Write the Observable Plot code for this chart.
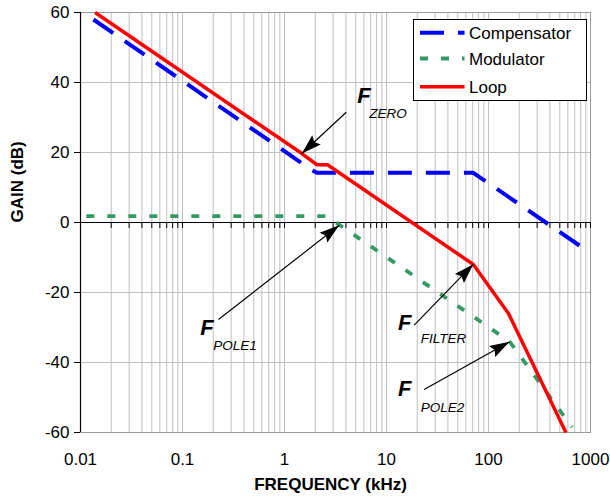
<!DOCTYPE html>
<html><head><meta charset="utf-8">
<script src="https://cdn.jsdelivr.net/npm/d3@7"></script>
<script src="https://cdn.jsdelivr.net/npm/@observablehq/plot@0.6"></script>
<style>
body{margin:0;background:#fff;font-family:"Liberation Sans",Arial,sans-serif;}
#chart{width:610px;height:503px;}
</style></head><body><div id="chart"></div>
<script>
// ---- data (frequency in kHz, gain in dB) ----
const compFreq = [0.0134, 1.85, 2.08, 71, 790];
const compGain = [58, 15, 14.2, 14.2, -6.7];
const modFreq = [0.0114, 2.6, 161, 660];
const modGain = [1.8, 1.8, -34, -58.5];
const loopFreq = [0.0139, 1.48, 2.08, 2.64, 71, 157, 574];
const loopGain = [60, 19.7, 16.5, 16.5, -12, -26, -60];

const xTickLabels = [0.01, 0.1, 1, 10, 100, 1000];
const yTickValues = [-60, -40, -20, 0, 20, 40, 60];
const decadeMultipliers = [1, 2, 3, 4, 5, 6, 7, 8, 9];

const seriesNames = ["Compensator", "Modulator", "Loop"];
const seriesColors = ["#0000ff", "#339966", "#ff0000"];
const seriesDash = ["24,14", "8,13", null];
const seriesWidth = [4, 3.8, 3.5];

// annotations
const annMain = ["F", "F", "F", "F"];
const annSub = ["ZERO", "POLE1", "FILTER", "POLE2"];
const annFx = [5.16, 0.149, 13.0, 13.0];
const annFy = [36.2, -30.1, -28.6, -47.7];
const annSx = [6.76, 0.2, 21.7, 21.7];
const annSy = [31.2, -35.3, -33.2, -52.8];
const arrowX1 = [4.03, 0.2255, 18.7, 23.4];
const arrowY1 = [31.5, -27.7, -29.3, -47.7];
const arrowX2 = [1.48, 3.44, 71, 161];
const arrowY2 = [19.7, -0.8, -11.9, -34.1];

const TICK_DB = 1.7; // tick length on the 0 dB axis, in dB

const gridFreqs = [];
xTickLabels.slice(0, -1).forEach(d => decadeMultipliers.forEach(m => gridFreqs.push(+(d * m).toPrecision(3))));
gridFreqs.push(1000);

const idx = a => a.map((_, i) => i);
const series = [[compFreq, compGain], [modFreq, modGain], [loopFreq, loopGain]];
const font = "Liberation Sans, Arial, Helvetica, sans-serif";

const svg = Plot.plot({
  width: 610, height: 503,
  marginLeft: 80, marginRight: 20, marginTop: 12, marginBottom: 71,
  x: {type: "log", domain: [0.01, 1000], axis: null},
  y: {domain: [-60, 60], axis: null},
  style: {fontFamily: font, fontSize: "17px", background: "white", color: "black", overflow: "visible"},
  marks: [
    Plot.ruleX(gridFreqs, {stroke: "#c0c0c0", strokeWidth: 1}),
    Plot.ruleY(yTickValues, {stroke: "#c0c0c0", strokeWidth: 1}),
    Plot.frame({stroke: "#999"}),
    Plot.ruleY([0], {stroke: "black", strokeWidth: 1.2}),
    Plot.ruleX(gridFreqs, {x: d => d, y1: 0, y2: -TICK_DB, stroke: "black", strokeWidth: 1}),
    Plot.ruleX([0.01], {stroke: "black", strokeWidth: 1.2}),
    Plot.axisY({ticks: yTickValues, tickSize: 6, tickPadding: 5, label: null, fontSize: 17, tickFormat: d => String(d)}),
    Plot.axisX({ticks: xTickLabels, tickSize: 0, tickPadding: 20, label: null, fontSize: 17, tickFormat: d => String(d)}),
    Plot.text(["FREQUENCY (kHz)"], {frameAnchor: "bottom", dy: 57, dx: -5, fontWeight: "bold", fontSize: 17}),
    Plot.text(["GAIN (dB)"], {frameAnchor: "left", dx: -63, rotate: -90, fontWeight: "bold", fontSize: 17}),
    ...series.map(([fx, gy], s) => Plot.line(idx(fx), {
      x: i => fx[i], y: i => gy[i],
      stroke: seriesColors[s], strokeWidth: seriesWidth[s],
      strokeDasharray: seriesDash[s], strokeLinecap: "butt", strokeLinejoin: "miter"
    })),
    Plot.link(idx(annMain), {
      x1: i => arrowX1[i], y1: i => arrowY1[i], x2: i => arrowX2[i], y2: i => arrowY2[i],
      stroke: "black", strokeWidth: 1.2
    }),
    Plot.text(idx(annMain), {x: i => annFx[i], y: i => annFy[i], text: i => annMain[i],
      textAnchor: "start", fontSize: 22, fontWeight: "bold", fontStyle: "italic"}),
    Plot.text(idx(annSub), {x: i => annSx[i], y: i => annSy[i], text: i => annSub[i],
      textAnchor: "start", fontSize: 13.5, fontStyle: "italic"})
  ]
});
document.getElementById("chart").appendChild(svg);

// filled arrowheads
const root = d3.select(svg);
root.append("defs").append("marker")
  .attr("id", "ahead").attr("viewBox", "-21 -7 22 14")
  .attr("markerWidth", 22).attr("markerHeight", 14)
  .attr("markerUnits", "userSpaceOnUse").attr("orient", "auto")
  .attr("refX", 0).attr("refY", 0)
  .append("path").attr("d", "M0,0L-20,-6.3L-17,0L-20,6.3Z").attr("fill", "black");
root.selectAll('g[aria-label="link"] path').attr("marker-end", "url(#ahead)");

// legend
const lg = root.append("g").attr("font-family", font).attr("font-size", 17).attr("text-anchor", "start");
lg.append("rect").attr("x", 413.5).attr("y", 19.5).attr("width", 173).attr("height", 81)
  .attr("fill", "white").attr("stroke", "black").attr("stroke-width", 1);
const rowY = [32.7, 58.5, 86.7];
seriesNames.forEach((name, s) => {
  lg.append("line").attr("x1", 420).attr("x2", 464.5).attr("y1", rowY[s]).attr("y2", rowY[s])
    .attr("stroke", seriesColors[s]).attr("stroke-width", seriesWidth[s])
    .attr("stroke-dasharray", seriesDash[s] || null);
  lg.append("text").attr("x", 469).attr("y", rowY[s]).attr("dy", "0.38em")
    .attr("text-anchor", "start").attr("fill", "black").text(name);
});
</script>
</body></html>
